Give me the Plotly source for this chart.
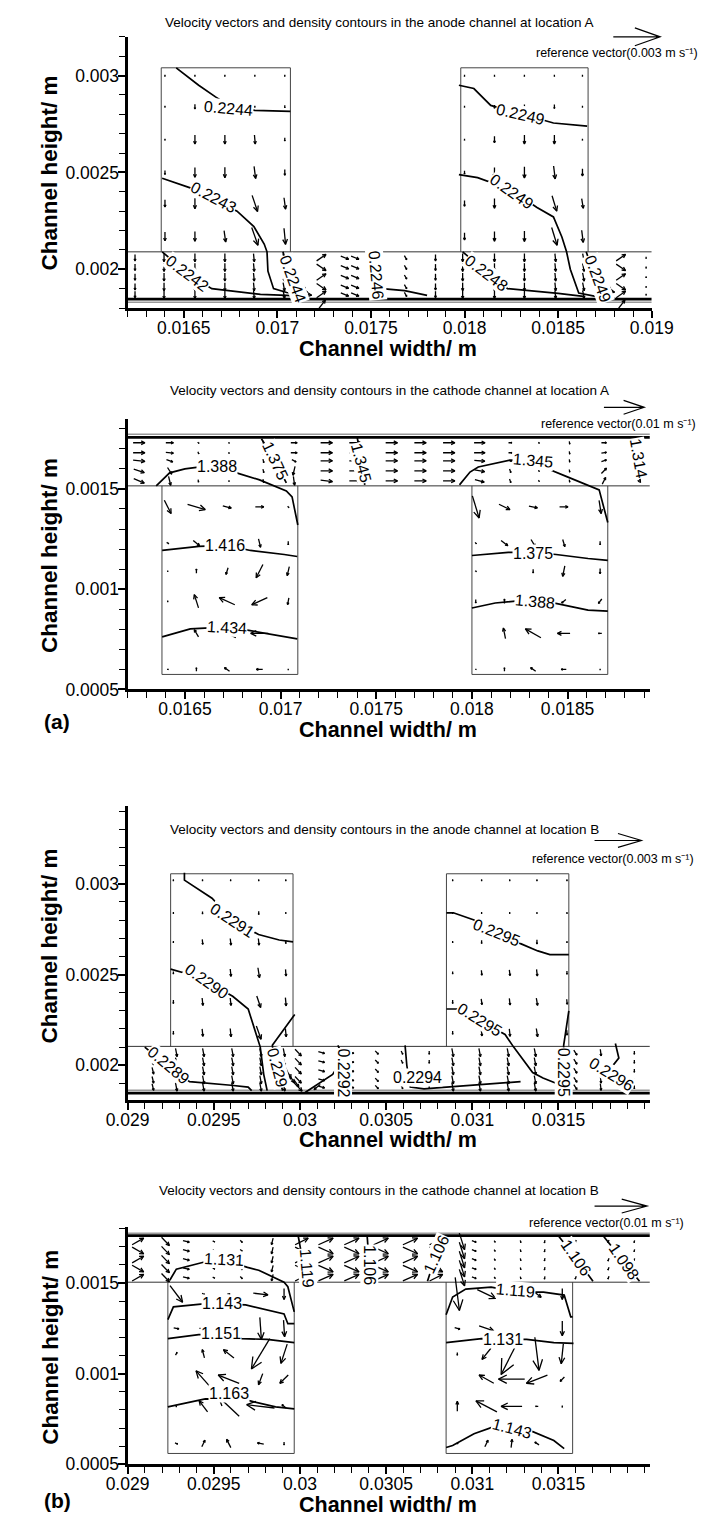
import numpy as np
import plotly.graph_objects as go
import plotly.figure_factory as ff

W, H = 707, 1517
FONT = "Liberation Sans, Arial, sans-serif"

# ---------------- panel 1: anode channel, location A ----------------
p1_xticks = [0.0165, 0.017, 0.0175, 0.018, 0.0185, 0.019]
p1_xlabels = ["0.0165", "0.017", "0.0175", "0.018", "0.0185", "0.019"]
p1_yticks = [0.002, 0.0025, 0.003]
p1_ylabels = ["0.002", "0.0025", "0.003"]
p1_chan_x = [[0.01638, 0.01707], [0.01798, 0.01866]]
p1_chan_end = 0.00304
p1_gdl_y = [0.00209, 0.001846]
p1_base_y = 0.00183

p1_box_rows = [0.00300, 0.00284, 0.00267, 0.00250, 0.00234, 0.00217]
p1_box1_cols = [0.01640, 0.01656, 0.01672, 0.01688, 0.01704]
p1_box2_cols = [0.01800, 0.01816, 0.01832, 0.01848, 0.01863]
p1_box1_u = [[0, 0, 0, 0, 0],
             [0, 0, 0, 0, 0],
             [0, 0, 0, 0.00005, 0],
             [0, 0, 0, 0.0001, 0],
             [0, 0, 0.0001, 0.00035, 0.0001],
             [0, 0, 0.0001, 0.0004, 0.0001]]
p1_box1_v = [[-0.0001, -0.0001, -0.0001, -0.0001, -0.0001],
             [-0.0001, -0.0003, -0.0001, -0.0001, -0.00015],
             [-0.0001, -0.00055, -0.00055, -0.00055, -0.0002],
             [-0.00025, -0.0006, -0.00065, -0.00075, -0.00035],
             [-0.00045, -0.00065, -0.0007, -0.001, -0.0007],
             [-0.00055, -0.0006, -0.0007, -0.0011, -0.001]]
p1_box2_u = [[0, 0, 0, 0, 0],
             [0, 0, 0, 0, 0],
             [0, 0, 0, 0, 0],
             [0, 0, 0, 0.0001, 0],
             [0, 0, 0, 0.0003, 0.0001],
             [0, 0, 0, 0.00035, 0.0001]]
p1_box2_v = [[-0.0001, -0.0001, -0.0001, -0.0001, -0.0001],
             [-0.0001, -0.0002, -0.00025, -0.00025, -0.0001],
             [-0.0001, -0.0004, -0.00055, -0.00055, -0.0001],
             [-0.0002, -0.0006, -0.0007, -0.0008, -0.00045],
             [-0.00035, -0.0006, -0.00065, -0.00095, -0.0006],
             [-0.00045, -0.0006, -0.00065, -0.0011, -0.00075]]

p1_gdl_cols = [0.01624, 0.016395, 0.01656, 0.01672, 0.016875, 0.017035, 0.017235, 0.01736, 0.017415,
               0.017685, 0.017845, 0.01799, 0.01816, 0.01832, 0.018485, 0.018635, 0.018835, 0.01897]
p1_gdl_rows = [0.00206, 0.00201, 0.00196, 0.00191, 0.00187]
p1_gdl_u = [[0, 0, 0, 0, 0.00005, 0.0001, 0.0006, 0.0005, 0.0005, 0.00015, 0, 0, 0, 0, 0.00005, 0.0001, 0.0006, 0],
            [0, 0, 0, 0, 0.00005, 0.0001, 0.0006, 0.0005, 0.0005, 0.00015, 0, 0, 0, 0, 0.00005, 0.0001, 0.0006, 0],
            [0, 0, 0, 0, 0.00005, 0.0001, 0.0006, 0.0005, 0.0005, 0.00015, 0, 0, 0, 0, 0.00005, 0.0001, 0.0006, 0],
            [0, 0, 0, 0, 0.00005, 0.0001, 0.0006, 0.0005, 0.0005, 0.00015, 0, 0, 0, 0, 0.00005, 0.0001, 0.0006, 0],
            [0, 0, 0, 0, 0.00005, 0.0001, 0.0006, 0.0005, 0.0005, 0.00015, 0, 0, 0, 0, 0.00005, 0.0001, 0.0006, 0]]
p1_gdl_v = [[-0.0004, -0.0005, -0.0005, -0.0005, -0.0005, -0.0005, 0.0004, -0.0002, -0.0002, -0.00025, -0.0004, -0.0005, -0.0005, -0.0005, -0.0005, -0.0005, 0.0004, -0.0001],
            [-0.0004, -0.0005, -0.0005, -0.0005, -0.0005, -0.0005, -0.0004, -0.0002, -0.0002, -0.00025, -0.0004, -0.0005, -0.0005, -0.0005, -0.0005, -0.0005, -0.0004, -0.0001],
            [-0.0004, -0.0005, -0.0005, -0.0005, -0.0005, -0.0005, 0.0004, -0.0002, -0.0002, -0.00025, -0.0004, -0.0005, -0.0005, -0.0005, -0.0005, -0.0005, 0.0004, -0.0001],
            [-0.0004, -0.0005, -0.0005, -0.0005, -0.0005, -0.0005, -0.0004, -0.0002, -0.0002, -0.00025, -0.0004, -0.0005, -0.0005, -0.0005, -0.0005, -0.0005, -0.0004, -0.0001],
            [-0.0004, -0.0005, -0.0005, -0.0005, -0.0005, -0.0005, 0.0004, -0.0002, -0.0002, -0.00025, -0.0004, -0.0005, -0.0005, -0.0005, -0.0005, -0.0005, 0.0004, -0.0001]]
p1_ext_x = [0.01710, 0.01712, 0.01715, 0.01724, 0.01873, 0.01876, 0.01884]
p1_ext_y = [0.00192, 0.00189, 0.00187, 0.00182, 0.00192, 0.00189, 0.00182]
p1_ext_u = [0.0012, 0.0010, 0.0008, 0.0004, 0.0012, 0.0010, 0.0004]
p1_ext_v = [-0.0004, -0.0002, -0.0001, 0.0005, -0.0004, -0.0002, 0.0005]

p1_contours = [
    ("0.2244", [0.01646, 0.01658, 0.01667, 0.01675, 0.01688, 0.01707],
     [0.00304, 0.00295, 0.00289, 0.00284, 0.00282, 0.002815], (0.01674, 0.00283, 5)),
    ("0.2243", [0.016385, 0.016535, 0.01667, 0.016785, 0.016875, 0.01693, 0.016945, 0.01695, 0.01698, 0.01705, 0.01712],
     [0.00247, 0.00242, 0.00236, 0.0023, 0.00222, 0.00213, 0.00209, 0.00199, 0.0019, 0.00188, 0.00187], (0.01666, 0.00237, 28)),
    ("0.2242", [0.016385, 0.01652, 0.01665, 0.01691, 0.01705, 0.01712],
     [0.00209, 0.00198, 0.0019, 0.00187, 0.001865, 0.00186], (0.01652, 0.00198, 37)),
    ("0.2244", [0.01703, 0.01707, 0.01712], [0.00209, 0.00196, 0.00185], (0.01708, 0.00195, 70)),
    ("0.2246", [0.01752, 0.01753, 0.01756, 0.01768, 0.0178],
     [0.00209, 0.00196, 0.0019, 0.00189, 0.001865], (0.01753, 0.00197, 85)),
    ("0.2249", [0.01797, 0.01805, 0.01814, 0.01832, 0.018475, 0.018655],
     [0.00295, 0.002933, 0.002846, 0.002795, 0.002755, 0.002739], (0.0183, 0.0028, 13)),
    ("0.2249", [0.01797, 0.01807, 0.01825, 0.018385, 0.018475, 0.01852, 0.018545, 0.018565, 0.01861, 0.0187],
     [0.002489, 0.002473, 0.00241, 0.00232, 0.00227, 0.002167, 0.00209, 0.002, 0.001877, 0.00186], (0.01825, 0.0024, 35)),
    ("0.2248", [0.01799, 0.018125, 0.01823, 0.0185, 0.018635],
     [0.00209, 0.00198, 0.0019, 0.001876, 0.00186], (0.01812, 0.00198, 37)),
    ("0.2249", [0.01865, 0.0187, 0.01876], [0.00209, 0.00195, 0.001846], (0.01871, 0.00195, 70)),
]

# ---------------- panel 2: cathode channel, location A ----------------
p2_xticks = [0.0165, 0.017, 0.0175, 0.018, 0.0185]
p2_xlabels = ["0.0165", "0.017", "0.0175", "0.018", "0.0185"]
p2_yticks = [0.0005, 0.001, 0.0015]
p2_ylabels = ["0.0005", "0.001", "0.0015"]
p2_chan_x = [[0.01638, 0.01709], [0.01800, 0.01871]]
p2_chan_end = 0.000575
p2_gdl_y = [0.001515, 0.001757]
p2_base_y = 0.001772

p2_box_rows = [0.00141, 0.00123, 0.00109, 0.00094, 0.00078, 0.00060]
p2_box1_cols = [0.01641, 0.01656, 0.01672, 0.01689, 0.01704]
p2_box2_cols = [0.01802, 0.01817, 0.01832, 0.01848, 0.01867]
p2_box1_u = [[0.0016, 0.0042, 0.002, 0.002, 0.0003],
             [0.0005, 0.0015, 0.0, 0.0005, 0.0],
             [0.0, 0.0, -0.0005, -0.0016, -0.0005],
             [0.0, -0.001, -0.0037, -0.0037, -0.0003],
             [0.0, -0.001, -0.0042, -0.0042, 0.0],
             [0.0003, 0.0, -0.0012, -0.0015, 0.0]]
p2_box1_v = [[-0.003, -0.0012, -0.0005, 0.0, -0.0003],
             [-0.0003, -0.0012, 0.0, -0.0019, -0.0008],
             [-0.0003, 0.001, -0.0015, -0.003, -0.002],
             [-0.0003, 0.003, 0.0016, -0.0016, -0.0015],
             [0.0, 0.0016, 0.002, 0.0, 0.0],
             [0.0, 0.0008, 0.0008, 0.0, -0.0003]]
p2_box2_u = [[0.0016, 0.0026, 0.002, 0.002, 0.0005],
             [0.0003, 0.0016, 0.001, 0.0005, 0.0],
             [0.0003, 0.0, 0.0, -0.0005, 0.0],
             [0.0, 0.0, 0.0, -0.001, -0.0008],
             [0.0, -0.0005, -0.0037, -0.003, -0.0008],
             [0.0002, 0.0, -0.0012, -0.0012, 0.0]]
p2_box2_v = [[-0.005, -0.0012, -0.0004, 0.0, -0.003],
             [-0.0003, -0.0012, -0.0016, -0.0016, -0.0008],
             [-0.0002, 0.0, -0.0008, -0.0024, -0.0012],
             [-0.0008, 0.001, 0.0, -0.0008, -0.001],
             [0.0, 0.0024, 0.002, 0.0, 0.0],
             [0.0, 0.0008, 0.0008, 0.0, -0.0003]]

p2_gdl_cols = [0.01626, 0.01642, 0.01657, 0.01673, 0.01691, 0.01707, 0.01724, 0.01739, 0.01758,
               0.01773, 0.01788, 0.01804, 0.0182, 0.01835, 0.01851, 0.01869, 0.01887]
p2_gdl_rows = [0.00173, 0.00168, 0.00164, 0.00159, 0.00154]
p2_gdl_u = [[0.0028, 0.0018, 0.0003, 0.0001, 0.0002, 0.0015, 0.0028, 0.0028, 0.0028, 0.0028, 0.0028, 0.0026, 0.0008, 0.0002, 0.0001, 0.0012, 0.0003],
            [0.0028, 0.0018, 0.0002, 0.0001, 0.0002, 0.0015, 0.0028, 0.0028, 0.0028, 0.0028, 0.0028, 0.0026, 0.0008, 0.0002, 0.0001, 0.0012, 0.0003],
            [0.0028, 0.0015, 0.0001, 0.0001, 0.0002, 0.001, 0.0028, 0.0028, 0.0028, 0.0028, 0.0028, 0.0025, 0.0006, 0.0002, 0.0001, 0.0012, 0.0003],
            [0.0025, 0.001, 0.0001, 0.0001, 0.0002, -0.0005, 0.0028, 0.0028, 0.0028, 0.0028, 0.0028, 0.0024, 0.0003, 0.0002, 0.0001, 0.0012, 0.0003],
            [0.0025, 0.0005, 0.0001, 0.0001, 0.0002, 0.0003, 0.0028, 0.0028, 0.0028, 0.0028, 0.0028, 0.0022, 0.0003, 0.0002, 0.0001, 0.0008, 0.0003]]
p2_gdl_v = [[0.0, 0.0, -0.0003, -0.0003, -0.0008, 0.0, 0.0, 0.0, 0.0, 0.0, 0.0, 0.0, 0.0, -0.0003, -0.0006, 0.0, -0.0003],
            [0.0, -0.0002, -0.0005, -0.0003, -0.0008, 0.0, 0.0, 0.0, 0.0, 0.0, 0.0, 0.0, 0.0, -0.0003, -0.0006, 0.0002, -0.0003],
            [-0.0003, -0.0005, -0.0006, -0.0003, -0.0008, -0.0005, 0.0, 0.0, 0.0, 0.0, 0.0, -0.0002, -0.0003, -0.0003, -0.0006, 0.0004, -0.0003],
            [-0.0008, -0.0015, -0.0006, -0.0003, -0.0008, -0.002, 0.0, 0.0, 0.0, 0.0, 0.0, -0.0004, -0.0008, -0.0003, -0.0006, 0.0012, -0.0003],
            [-0.001, -0.002, -0.0006, -0.0003, -0.0008, -0.002, -0.0003, 0.0, 0.0, 0.0, 0.0, -0.0006, -0.0008, -0.0003, -0.0006, 0.0015, -0.0003]]

p2_contours = [
    ("1.388", [0.01635, 0.01642, 0.0165, 0.01658, 0.01677, 0.01689, 0.01703, 0.01706, 0.01709],
     [0.001515, 0.00158, 0.0016, 0.00161, 0.00158, 0.001545, 0.00149, 0.00146, 0.00132], (0.01667, 0.00161, 0)),
    ("1.375", [0.0169, 0.01697, 0.01703], [0.00175, 0.00164, 0.00153], (0.01697, 0.00164, 65)),
    ("1.345", [0.0174, 0.01742, 0.01744], [0.00176, 0.00163, 0.00152], (0.01742, 0.00163, 75)),
    ("1.345", [0.017935, 0.01799, 0.018033, 0.0182, 0.018322, 0.018386, 0.018499, 0.018665, 0.01871],
     [0.00152, 0.001584, 0.001609, 0.001643, 0.00164, 0.001604, 0.00156, 0.001495, 0.001332], (0.01832, 0.00164, 5)),
    ("1.314", [0.01886, 0.01887, 0.01888], [0.00176, 0.00165, 0.00153], (0.01887, 0.00165, 80)),
    ("1.416", [0.016381, 0.016573, 0.01672, 0.016842, 0.017019, 0.017087],
     [0.001193, 0.001213, 0.001218, 0.001193, 0.001173, 0.001163], (0.01671, 0.00122, 0)),
    ("1.434", [0.016381, 0.016528, 0.01673, 0.016842, 0.017019, 0.017087],
     [0.000762, 0.000802, 0.000812, 0.000792, 0.000762, 0.000752], (0.01672, 0.00081, 3)),
    ("1.375", [0.018, 0.01819, 0.018322, 0.01844, 0.018607, 0.01871],
     [0.001168, 0.001183, 0.001183, 0.001173, 0.001153, 0.001144], (0.01832, 0.00118, 0)),
    ("1.388", [0.018, 0.018122, 0.018332, 0.018455, 0.018607, 0.01871],
     [0.000906, 0.000931, 0.00095, 0.000926, 0.000896, 0.000891], (0.01833, 0.00094, 5)),
]

# ---------------- panel 3: anode channel, location B ----------------
p3_xticks = [0.029, 0.0295, 0.03, 0.0305, 0.031, 0.0315]
p3_xlabels = ["0.029", "0.0295", "0.03", "0.0305", "0.031", "0.0315"]
p3_yticks = [0.002, 0.0025, 0.003]
p3_ylabels = ["0.002", "0.0025", "0.003"]
p3_chan_x = [[0.02925, 0.02996], [0.03085, 0.03156]]
p3_chan_end = 0.003055
p3_gdl_y = [0.002104, 0.001847]
p3_base_y = 0.001863

p3_box_rows = [0.00302, 0.00284, 0.00268, 0.00251, 0.00235, 0.00218]
p3_box1_cols = [0.029266, 0.029435, 0.029598, 0.029761, 0.029918]
p3_box2_cols = [0.030886, 0.031054, 0.031217, 0.031375, 0.031549]
p3_box1_u = [[0, 0, 0, 0, 0],
             [0, 0, 0, 0, 0],
             [0, 0.00003, 0.00005, 0.00005, 0],
             [0, 0.00005, 0.00005, 0.0001, 0.00003],
             [0, 0.00005, 0.00005, 0.00025, 0.00005],
             [0, 0.00005, 0.00005, 0.0003, 0.00005]]
p3_box1_v = [[-0.0001, -0.0001, -0.0001, -0.0001, -0.0001],
             [-0.0001, -0.00015, -0.00025, -0.0002, -0.0001],
             [-0.0001, -0.0003, -0.0004, -0.0004, -0.0002],
             [-0.00015, -0.0004, -0.00045, -0.0006, -0.0004],
             [-0.0002, -0.00045, -0.00045, -0.0007, -0.0005],
             [-0.0002, -0.00045, -0.0005, -0.0008, -0.0005]]
p3_box2_u = [[0, 0, 0, 0, 0],
             [0, 0, 0, 0, 0],
             [0, 0, 0, 0, 0],
             [0, 0.00003, 0.00005, 0.00005, 0],
             [0, 0.00005, 0.00005, 0.00008, 0.00003],
             [0, 0.00005, 0.00005, 0.00008, 0.00003]]
p3_box2_v = [[-0.0001, -0.0001, -0.0001, -0.0001, -0.0001],
             [-0.0001, -0.0001, -0.0001, -0.0001, -0.0001],
             [-0.0001, -0.0002, -0.00025, -0.00025, -0.0001],
             [-0.00015, -0.0003, -0.00035, -0.0004, -0.0002],
             [-0.0002, -0.00035, -0.0004, -0.00045, -0.0003],
             [-0.0002, -0.0004, -0.00045, -0.0005, -0.0003]]

p3_gdl_cols = [0.029147, 0.029283, 0.02944, 0.029609, 0.029772, 0.029908, 0.02999, 0.030125, 0.030299, 0.030446,
               0.030592, 0.03075, 0.030886, 0.031043, 0.031207, 0.031364, 0.031598, 0.031745, 0.03194]
p3_gdl_rows = [0.00207, 0.00202, 0.00197, 0.00192, 0.00188]
p3_gdl_u = [[0.0001, 0.0001, 0.0001, 0.0001, 0.0001, 0.0001, 0.0004, 0.0004, 0.0003, 0.0002, 0.0001, 0, 0.0001, 0.0001, 0.0001, 0.0001, 0.0002, 0.00005, 0],
            [0.0001, 0.0001, 0.0001, 0.0001, 0.0001, 0.0001, 0.0004, 0.0004, 0.0003, 0.0002, 0.0001, 0, 0.0001, 0.0001, 0.0001, 0.0001, 0.0002, 0.00005, 0],
            [0.0001, 0.0001, 0.0001, 0.0001, 0.0001, 0.0001, 0.0004, 0.0004, 0.0003, 0.0002, 0.0001, 0, 0.0001, 0.0001, 0.0001, 0.0001, 0.0002, 0.00005, 0],
            [0.0001, 0.0001, 0.0001, 0.0001, 0.0001, 0.0001, 0.0004, 0.0004, 0.0003, 0.0002, 0.0001, 0, 0.0001, 0.0001, 0.0001, 0.0001, 0.0002, 0.00005, 0],
            [0.0001, 0.0001, 0.0001, 0.0001, 0.0001, 0.0001, 0.0005, 0.0004, 0.0003, 0.0002, 0.0001, 0, 0.0001, 0.0001, 0.0001, 0.0001, 0.0002, 0.00005, 0]]
p3_gdl_v = [[-0.0004, -0.0005, -0.0005, -0.0005, -0.0005, -0.0005, -0.0004, -0.0001, -0.0001, -0.0002, -0.0002, -0.0002, -0.0005, -0.0005, -0.0005, -0.0005, -0.0003, -0.0004, -0.0002],
            [-0.0004, -0.0005, -0.0005, -0.0005, -0.0005, -0.0005, -0.0004, -0.0001, -0.0001, -0.0002, -0.0002, -0.0002, -0.0005, -0.0005, -0.0005, -0.0005, -0.0003, -0.0004, -0.0002],
            [-0.0004, -0.0005, -0.0005, -0.0005, -0.0005, -0.0005, -0.0004, -0.0001, -0.0001, -0.0002, -0.0002, -0.0002, -0.0005, -0.0005, -0.0005, -0.0005, -0.0003, -0.0004, -0.0002],
            [-0.0004, -0.0005, -0.0005, -0.0005, -0.0005, -0.0005, -0.0004, -0.0001, -0.0001, -0.0002, -0.0002, -0.0002, -0.0005, -0.0005, -0.0005, -0.0005, -0.0003, -0.0004, -0.0002],
            [-0.0004, -0.0005, -0.0005, -0.0005, -0.0005, -0.0005, -0.0005, -0.0001, -0.0001, -0.0002, -0.0002, -0.0002, -0.0005, -0.0005, -0.0005, -0.0005, -0.0003, -0.0004, -0.0002]]
p3_ext_x = [0.02993, 0.02995, 0.02998, 0.0301]
p3_ext_y = [0.00196, 0.00193, 0.0019, 0.00188]
p3_ext_u = [0.0004, 0.0004, 0.0003, -0.0004]
p3_ext_v = [-0.0008, -0.0006, -0.0004, -0.0003]

p3_contours = [
    ("0.2291", [0.02933, 0.02933, 0.02949, 0.02961, 0.02976, 0.02988, 0.02996],
     [0.00306, 0.00302, 0.00292, 0.0028, 0.00272, 0.00269, 0.00268], (0.02961, 0.0028, 33)),
    ("0.2290", [0.02925, 0.02936, 0.02948, 0.02961, 0.0297, 0.02976, 0.02977, 0.02979, 0.02981],
     [0.00253, 0.0025, 0.00245, 0.00238, 0.00231, 0.00213, 0.0021, 0.00195, 0.00186], (0.02946, 0.00246, 35)),
    ("0.229", [0.02997, 0.02984, 0.02986, 0.0299], [0.00228, 0.00211, 0.00199, 0.00186], (0.02987, 0.00199, 75)),
    ("0.2289", [0.0291, 0.02924, 0.02936, 0.0295, 0.0296, 0.0297, 0.02972],
     [0.0021, 0.00199, 0.00191, 0.0019, 0.00189, 0.00188, 0.00186], (0.02924, 0.002, 40)),
    ("0.2292", [0.03003, 0.03019, 0.03023, 0.03024, 0.03022],
     [0.00185, 0.00195, 0.00201, 0.00207, 0.00211], (0.03025, 0.00196, 90)),
    ("0.2294", [0.03061, 0.03062, 0.03064, 0.03072, 0.03085, 0.031, 0.03115, 0.03128],
     [0.00211, 0.002, 0.00188, 0.00187, 0.00188, 0.00189, 0.0019, 0.00191], (0.03068, 0.00193, 0)),
    ("0.2295", [0.03085, 0.03089, 0.03101, 0.03114, 0.03128, 0.03138, 0.03145, 0.03156],
     [0.00284, 0.00284, 0.0028, 0.00273, 0.00267, 0.00263, 0.00261, 0.00261], (0.03114, 0.00273, 22)),
    ("0.2295", [0.03085, 0.03091, 0.03104, 0.03119, 0.03124, 0.0313, 0.03135, 0.03141, 0.03149, 0.03154],
     [0.00231, 0.00231, 0.00225, 0.00217, 0.0021, 0.00202, 0.00196, 0.00193, 0.0019, 0.00188], (0.03104, 0.00225, 32)),
    ("0.2295", [0.03156, 0.03153, 0.03153, 0.03155], [0.0023, 0.00211, 0.00196, 0.00186], (0.03153, 0.00196, 90)),
    ("0.2296", [0.03183, 0.03185, 0.0318], [0.00212, 0.00204, 0.00198], (0.03181, 0.00195, 32)),
]

# ---------------- panel 4: cathode channel, location B ----------------
p4_xticks = [0.029, 0.0295, 0.03, 0.0305, 0.031, 0.0315]
p4_xlabels = ["0.029", "0.0295", "0.03", "0.0305", "0.031", "0.0315"]
p4_yticks = [0.0005, 0.001, 0.0015]
p4_ylabels = ["0.0005", "0.001", "0.0015"]
p4_chan_x = [[0.029234, 0.029967], [0.030848, 0.031582]]
p4_chan_end = 0.00056
p4_gdl_y = [0.001505, 0.001762]
p4_base_y = 0.001775

p4_box_rows = [0.00144, 0.00125, 0.00111, 0.00097, 0.00082, 0.000615]
p4_box1_cols = [0.029283, 0.02944, 0.029587, 0.029772, 0.029908]
p4_box2_cols = [0.030913, 0.031082, 0.031228, 0.031375, 0.031522]
p4_box1_u = [[0.0024, 0.0005, 0.0005, 0.0028, 0.0],
             [0.001, 0.0015, 0.0005, 0.0003, 0.0002],
             [0.0003, -0.0004, -0.002, -0.0035, -0.0012],
             [0.0, -0.0028, -0.004, -0.0008, -0.0016],
             [0.0, -0.0016, -0.004, -0.0053, -0.0008],
             [0.0005, 0.0006, -0.0008, -0.0012, 0.0]]
p4_box1_v = [[-0.003, -0.0002, 0.0, -0.0003, -0.002],
             [-0.0002, 0.0, -0.0003, -0.004, -0.003],
             [0.0005, 0.0015, 0.0015, -0.0055, -0.0035],
             [0.0, 0.003, 0.0015, -0.002, -0.0015],
             [-0.0002, 0.002, 0.0036, 0.0006, 0.0006],
             [-0.0002, 0.0012, 0.0015, 0.0002, -0.0005]]
p4_box2_u = [[0.0008, 0.0035, 0.003, 0.0016, 0.0],
             [0.001, 0.0028, 0.0, 0.0, 0.0],
             [0.0, -0.0017, -0.004, 0.0008, -0.0004],
             [0.0, -0.0028, -0.005, -0.004, -0.0008],
             [0.0, -0.004, -0.004, -0.0005, 0.0],
             [0.0003, 0.0006, 0.0002, -0.0008, 0.0]]
p4_box2_v = [[-0.006, -0.0016, -0.0015, -0.0012, -0.002],
             [-0.0003, -0.0009, 0.0, 0.0, -0.0027],
             [-0.0005, -0.002, -0.0075, -0.006, -0.0036],
             [0.0, 0.0015, 0.0, -0.0015, -0.0008],
             [0.0018, 0.002, 0.0, 0.0, -0.0003],
             [0.0, 0.0012, 0.0015, 0.0005, 0.0]]

p4_gdl_cols = [0.02906, 0.02922, 0.02934, 0.0295, 0.02966, 0.02984, 0.03001, 0.03015, 0.0303, 0.03047,
               0.03064, 0.03079, 0.03094, 0.03101, 0.03113, 0.03128, 0.03142, 0.0316, 0.03179, 0.03194]
p4_gdl_rows = [0.00173, 0.00168, 0.00163, 0.00158, 0.00153]
p4_gdl_u = [[0.0022, 0.0015, 0.0012, 0.0004, 0.0004, -0.0003, 0.0025, 0.0028, 0.0028, 0.0028, 0.0028, 0.0025, 0.001, 0.0008, 0.0002, 0.0001, -0.0001, -0.0002, -0.0002, -0.0001],
            [0.0022, 0.0015, 0.0012, 0.0004, 0.0004, -0.0003, 0.0025, 0.0028, 0.0028, 0.0028, 0.0028, 0.0025, 0.001, 0.0008, 0.0002, 0.0001, -0.0001, -0.0002, -0.0002, -0.0001],
            [0.0022, 0.0015, 0.0012, 0.0004, 0.0004, -0.0003, 0.0025, 0.0028, 0.0028, 0.0028, 0.0028, 0.0025, 0.001, 0.0008, 0.0002, 0.0001, -0.0001, -0.0002, -0.0002, -0.0001],
            [0.0022, 0.0015, 0.0012, 0.0004, 0.0004, -0.0003, 0.0025, 0.0028, 0.0028, 0.0028, 0.0028, 0.0025, 0.001, 0.0008, 0.0002, 0.0001, -0.0001, -0.0002, -0.0002, -0.0001],
            [0.0022, 0.0015, 0.0012, 0.0004, 0.0004, -0.0003, 0.0025, 0.0028, 0.0028, 0.0028, 0.0028, 0.0025, 0.001, 0.0008, 0.0002, 0.0001, -0.0001, -0.0002, -0.0002, -0.0001]]
p4_gdl_v = [[0.0012, -0.0015, -0.0003, -0.0002, -0.0004, -0.0012, 0.0012, 0.0012, 0.0012, 0.0012, 0.0012, 0.0012, -0.003, -0.0003, -0.0003, -0.0004, -0.0005, -0.0005, -0.0005, -0.0004],
            [-0.0012, -0.0015, -0.0003, -0.0002, -0.0004, -0.0012, -0.0012, -0.0012, -0.0012, -0.0012, -0.0012, -0.0012, -0.003, -0.0003, -0.0003, -0.0004, -0.0005, -0.0005, -0.0005, -0.0004],
            [0.0012, -0.0015, -0.0003, -0.0002, -0.0004, -0.0012, 0.0012, 0.0012, 0.0012, 0.0012, 0.0012, 0.0012, -0.003, -0.0003, -0.0003, -0.0004, -0.0005, -0.0005, -0.0005, -0.0004],
            [-0.0012, -0.0015, -0.0003, -0.0002, -0.0004, -0.0012, -0.0012, -0.0012, -0.0012, -0.0012, -0.0012, -0.0012, -0.003, -0.0003, -0.0003, -0.0004, -0.0005, -0.0005, -0.0005, -0.0004],
            [0.0012, -0.0015, -0.0003, -0.0002, -0.0004, -0.0012, 0.0012, 0.0012, 0.0012, 0.0012, 0.0012, 0.0012, -0.003, -0.0003, -0.0003, -0.0004, -0.0005, -0.0005, -0.0005, -0.0004]]

p4_contours = [
    ("1.131", [0.029245, 0.029283, 0.02944, 0.02956, 0.029696, 0.029761, 0.029908, 0.02993, 0.029967],
     [0.001516, 0.001577, 0.001615, 0.001626, 0.001587, 0.001571, 0.001505, 0.00148, 0.001341], (0.02956, 0.00163, 3)),
    ("1.119", [0.02999, 0.03002, 0.03004], [0.00176, 0.0016, 0.0015], (0.03004, 0.00158, 85)),
    ("1.106", [0.03039, 0.0304, 0.03041], [0.00176, 0.00163, 0.00151], (0.0304, 0.0016, 90)),
    ("1.106", [0.03074, 0.03079, 0.03084], [0.00151, 0.00166, 0.00176], (0.03079, 0.00166, -65)),
    ("1.106", [0.0315, 0.0316, 0.0317], [0.00176, 0.00164, 0.00151], (0.0316, 0.00164, 55)),
    ("1.098", [0.03176, 0.03188, 0.03197], [0.00176, 0.00162, 0.00151], (0.03188, 0.00162, 55)),
    ("1.143", [0.029234, 0.029266, 0.02944, 0.029549, 0.029685, 0.029908, 0.02993, 0.029967],
     [0.001298, 0.001369, 0.001385, 0.001385, 0.00138, 0.00133, 0.001276, 0.001276], (0.02955, 0.00139, 0)),
    ("1.151", [0.029234, 0.029413, 0.029538, 0.029663, 0.02981, 0.029967],
     [0.001194, 0.001216, 0.001216, 0.001194, 0.001189, 0.001172], (0.02954, 0.00122, 0)),
    ("1.163", [0.029234, 0.029342, 0.029451, 0.02958, 0.029712, 0.029859, 0.029967],
     [0.000817, 0.000839, 0.000861, 0.00086, 0.00085, 0.000817, 0.000806], (0.02959, 0.00089, 0)),
    ("1.119", [0.030848, 0.030886, 0.030962, 0.031109, 0.031266, 0.031413, 0.031533, 0.031571, 0.031582],
     [0.001325, 0.001423, 0.001467, 0.001478, 0.00145, 0.00145, 0.001434, 0.001314, 0.001314], (0.03125, 0.00146, 5)),
    ("1.131", [0.030848, 0.031054, 0.031179, 0.031315, 0.031473, 0.031587],
     [0.001172, 0.001194, 0.001189, 0.001189, 0.001172, 0.001167], (0.03118, 0.00119, 0)),
    ("1.143", [0.030848, 0.030886, 0.03101, 0.031109, 0.031228, 0.031337, 0.031473, 0.031533],
     [0.000593, 0.000604, 0.000669, 0.000702, 0.000697, 0.000686, 0.000631, 0.000587], (0.03123, 0.0007, 15)),
]

# ---------------- layout helpers ----------------
def fx(px):
    return px / W


def fy(py):
    return 1 - py / H


fig = go.Figure()


def axis(vals, text, rng, dom, anchor):
    return dict(range=rng, domain=dom, anchor=anchor, tickmode="array", tickvals=vals, ticktext=text,
                showline=True, linewidth=3, linecolor="black", ticks="outside", ticklen=7,
                tickwidth=1.5, tickcolor="black", tickfont=dict(family=FONT, size=17.5, color="black"),
                ticklabelstandoff=-5,
                minor=dict(tickmode="linear", tick0=0, dtick=0.0001, ticks="outside", ticklen=6,
                           tickwidth=1, tickcolor="black", showgrid=False),
                showgrid=False, zeroline=False, fixedrange=True)


def arrows(xs, ys, us, vs, scale, xa, ya):
    # pivot every arrow on its node
    bx = [x - 0.5 * u * scale for x, u in zip(xs, us)]
    by = [y - 0.5 * v * scale for y, v in zip(ys, vs)]
    q = ff.create_quiver(bx, by, us, vs, scale=scale, arrow_scale=0.35, angle=np.pi / 7,
                         line=dict(color="black", width=1.3))
    tr = q.data[0]
    tr.update(xaxis=xa, yaxis=ya, hoverinfo="skip", showlegend=False)
    fig.add_trace(tr)


def grid_arrows(cols, rows, U, V, scale, xa, ya):
    xs, ys, us, vs = [], [], [], []
    for j, yv in enumerate(rows):
        for i, xv in enumerate(cols):
            xs.append(xv)
            ys.append(yv)
            us.append(U[j][i])
            vs.append(V[j][i])
    arrows(xs, ys, us, vs, scale, xa, ya)


def line(xs, ys, xa, ya, width=1.0, color="black"):
    fig.add_trace(go.Scatter(x=xs, y=ys, mode="lines", xaxis=xa, yaxis=ya, hoverinfo="skip",
                             showlegend=False, line=dict(color=color, width=width)))


def note(x, y, text, size, angle=0, xanchor="center"):
    return dict(x=x, y=y, xref="paper", yref="paper", text=text, showarrow=False, textangle=angle,
                xanchor=xanchor, yanchor="middle", font=dict(family=FONT, size=size, color="black"))


panels = [
    dict(n=1, box=(104, 663, 29, 302), xr=[0.0162, 0.019], yr=[0.0018, 0.0032],
         xt=(p1_xticks, p1_xlabels), yt=(p1_yticks, p1_ylabels), chan=p1_chan_x, chan_end=p1_chan_end,
         gdl=p1_gdl_y, base=p1_base_y, scale=0.0833, contours=p1_contours,
         boxes=[(p1_box1_cols, p1_box_rows, p1_box1_u, p1_box1_v), (p1_box2_cols, p1_box_rows, p1_box2_u, p1_box2_v),
                (p1_gdl_cols, p1_gdl_rows, p1_gdl_u, p1_gdl_v)],
         ext=(p1_ext_x, p1_ext_y, p1_ext_u, p1_ext_v),
         title="Velocity vectors and density contours in the anode channel at location A", tt=(373, 15),
         ref="reference vector(0.003 m s\u207b\u00b9)", ref_arrow=(622, 672, 29, 27, 9), ref_t=(626, 45),
         ylab=166, xlab=343),
    dict(n=2, box=(104, 661, 414, 686), xr=[0.0162, 0.01893], yr=[0.0005, 0.001847],
         xt=(p2_xticks, p2_xlabels), yt=(p2_yticks, p2_ylabels), chan=p2_chan_x, chan_end=p2_chan_end,
         gdl=p2_gdl_y, base=p2_base_y, scale=0.022, contours=p2_contours,
         boxes=[(p2_box1_cols, p2_box_rows, p2_box1_u, p2_box1_v), (p2_box2_cols, p2_box_rows, p2_box2_u, p2_box2_v),
                (p2_gdl_cols, p2_gdl_rows, p2_gdl_u, p2_gdl_v)],
         ext=None,
         title="Velocity vectors and density contours in the cathode channel at location A", tt=(383, 385),
         ref="reference vector(0.01 m s\u207b\u00b9)", ref_arrow=(612, 655, 402, 22, 7), ref_t=(628, 419),
         ylab=551, xlab=727),
    dict(n=3, box=(104, 661, 803, 1099), xr=[0.029, 0.03203], yr=[0.00181, 0.00343],
         xt=(p3_xticks, p3_xlabels), yt=(p3_yticks, p3_ylabels), chan=p3_chan_x, chan_end=p3_chan_end,
         gdl=p3_gdl_y, base=p3_base_y, scale=0.0906, contours=p3_contours,
         boxes=[(p3_box1_cols, p3_box_rows, p3_box1_u, p3_box1_v), (p3_box2_cols, p3_box_rows, p3_box2_u, p3_box2_v),
                (p3_gdl_cols, p3_gdl_rows, p3_gdl_u, p3_gdl_v)],
         ext=(p3_ext_x, p3_ext_y, p3_ext_u, p3_ext_v),
         title="Velocity vectors and density contours in the anode channel at location B", tt=(378, 827),
         ref="reference vector(0.003 m s\u207b\u00b9)", ref_arrow=(602, 652, 838, 25, 7), ref_t=(622, 857),
         ylab=944, xlab=1140),
    dict(n=4, box=(104, 661, 1227, 1466), xr=[0.029, 0.03203], yr=[0.0005, 0.00181],
         xt=(p4_xticks, p4_xlabels), yt=(p4_yticks, p4_ylabels), chan=p4_chan_x, chan_end=p4_chan_end,
         gdl=p4_gdl_y, base=p4_base_y, scale=0.0304, contours=p4_contours,
         boxes=[(p4_box1_cols, p4_box_rows, p4_box1_u, p4_box1_v), (p4_box2_cols, p4_box_rows, p4_box2_u, p4_box2_v),
                (p4_gdl_cols, p4_gdl_rows, p4_gdl_u, p4_gdl_v)],
         ext=None,
         title="Velocity vectors and density contours in the cathode channel at location B", tt=(372, 1190),
         ref="reference vector(0.01 m s\u207b\u00b9)", ref_arrow=(602, 658, 1206, 27, 7), ref_t=(615, 1223),
         ylab=1348, xlab=1507),
]

annotations = []
shapes = []
layout = {}

for p in panels:
    n = p["n"]
    sx = "" if n == 1 else str(n)
    xa, ya = "x" + sx, "y" + sx
    x0p, x1p, y0p, y1p = p["box"]
    layout["xaxis" + sx] = axis(*p["xt"], p["xr"], [fx(x0p), fx(x1p)], ya)
    layout["yaxis" + sx] = axis(*p["yt"], p["yr"], [fy(y1p), fy(y0p)], xa)

    xmin, xmax = p["xr"]
    g_in, g_out = p["gdl"]
    # flow channels
    bx, by = [], []
    for a, b in p["chan"]:
        bx += [a, a, b, b, None]
        by += [g_in, p["chan_end"], p["chan_end"], g_in, None]
    line(bx, by, xa, ya, 1.0, "#444")
    # GDL edges
    line([xmin, xmax], [g_in, g_in], xa, ya, 1.0, "#333")
    line([xmin, xmax], [p["base"], p["base"]], xa, ya, 1.5, "#999")
    line([xmin, xmax], [g_out, g_out], xa, ya, 2.8, "black")

    # velocity vectors
    for cols, rows, U, V in p["boxes"]:
        grid_arrows(cols, rows, U, V, p["scale"], xa, ya)
    if p["ext"]:
        arrows(*p["ext"], p["scale"], xa, ya)

    # density contours with labels
    for lab, cx, cy, (lx, ly, ang) in p["contours"]:
        line(cx, cy, xa, ya, 1.7, "black")
        annotations.append(dict(x=lx, y=ly, xref=xa, yref=ya, text=lab, showarrow=False, textangle=ang,
                                xanchor="center", yanchor="middle", bgcolor="white", borderpad=0,
                                font=dict(family=FONT, size=16, color="black")))

    # titles and labels
    tx, ty = p["tt"]
    annotations.append(note(fx(tx), fy(ty), p["title"], 13.5))
    rx, ry = p["ref_t"]
    annotations.append(note(fx(rx), fy(ry), p["ref"], 12.5))
    annotations.append(note(fx(21), fy(p["ylab"]), "<b>Channel height/ m</b>", 22.5, angle=-90))
    annotations.append(note(fx(382), fy(p["xlab"]), "<b>Channel width/ m</b>", 21.5))
    a0, a1, ay, hl, hs = p["ref_arrow"]
    pt = lambda u, v: f"{fx(u):.5f},{fy(v):.5f}"
    shapes.append(dict(type="path", xref="paper", yref="paper",
                       path=f"M{pt(a0, ay)}L{pt(a1, ay)}M{pt(a1 - hl, ay - hs)}L{pt(a1, ay)}L{pt(a1 - hl, ay + hs)}",
                       line=dict(color="black", width=1.2)))

for tag, py in (("(a)", 718), ("(b)", 1502)):
    annotations.append(note(fx(13), fy(py), "<b>" + tag + "</b>", 21, xanchor="left"))

fig.update_layout(width=W, height=H, margin=dict(l=0, r=0, t=0, b=0),
                  paper_bgcolor="white", plot_bgcolor="white", showlegend=False,
                  annotations=annotations, shapes=shapes, **layout)

fig.write_html("out.html")
